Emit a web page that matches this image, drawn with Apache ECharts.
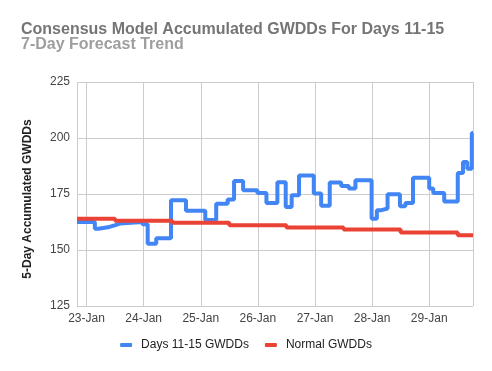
<!DOCTYPE html>
<html>
<head>
<meta charset="utf-8">
<script src="https://cdn.jsdelivr.net/npm/echarts@6/dist/echarts.min.js"></script>
<style>html,body{margin:0;padding:0;background:#fff;}#c{width:492px;height:371px;}</style>
</head>
<body>
<div id="c"></div>
<script>
// Hours offset from 23-Jan 00:00 at which each forecast value starts
const blueHours = [-4, 3.5, 5, 9.6, 11.8, 14, 23.5, 25.7, 29.3, 35.5, 41.8, 49.9, 54.5, 59.3, 62, 65.8, 71.8, 75.6, 80.2, 83.7, 86.2, 89.3, 95.5, 98.6, 102.2, 107, 110.2, 113, 119.8, 122, 123.6, 126.5, 131.7, 134, 137.2, 144, 145.7, 150.3, 156, 158.2, 160, 161.9, 162.4];
const blueValues = [162.5, 159.5, 160.3, 161, 161.8, 162.5, 161.5, 152.8, 155.2, 172.2, 167.5, 163.4, 170.7, 172.5, 180.8, 176.7, 175.4, 171, 180.2, 169.2, 174.4, 183.3, 175.2, 169.8, 180.1, 178.6, 177.4, 181.1, 164, 167.7, 168.5, 174.9, 169.5, 171, 182.2, 177.4, 175.4, 171.7, 184.4, 189.3, 186.3, 202.2, 202.2];
const normalHours = [-4, 12, 36, 60, 84, 108, 132, 156, 162.4];
const normalValues = [164, 163.1, 162.2, 161, 160.1, 159.1, 157.8, 156.6, 156.6];
const yTicks = [125, 150, 175, 200, 225];
const monthNames = ['Jan','Feb','Mar','Apr','May','Jun','Jul','Aug','Sep','Oct','Nov','Dec'];
const seriesNames = ['Days 11-15 GWDDs', 'Normal GWDDs'];

const base = new Date(2024, 0, 23, 0, 0, 0).getTime();
const H = 3600000;
const toPts = (hs, vs) => hs.map((h, i) => [base + h * H, vs[i]]);

const FONT = 'Liberation Sans, Arial, sans-serif';
const chart = echarts.init(document.getElementById('c'), null, {renderer: 'canvas'});
chart.setOption({
  animation: false,
  title: [
    {text: 'Consensus Model Accumulated GWDDs For Days 11-15', left: 16, top: 17,
     textStyle: {fontFamily: FONT, fontSize: 16, fontWeight: 'bold', color: '#757575'}},
    {text: '7-Day Forecast Trend', left: 16, top: 32,
     textStyle: {fontFamily: FONT, fontSize: 16, fontWeight: 'bold', color: '#9e9e9e'}}
  ],
  legend: {
    bottom: 15, left: 'center', icon: 'roundRect', itemWidth: 12, itemHeight: 4, itemGap: 16,
    textStyle: {fontFamily: FONT, fontSize: 12, color: '#222', padding: [0, 0, 0, 4]},
    data: seriesNames
  },
  grid: {left: 77, right: 19, top: 82, bottom: 65, containLabel: false},
  xAxis: {
    type: 'time',
    min: base + blueHours[0] * H,
    max: base + blueHours[blueHours.length - 1] * H,
    minInterval: 24 * H, maxInterval: 24 * H,
    axisLine: {show: false}, axisTick: {show: false},
    splitLine: {show: true, lineStyle: {color: '#cccccc', width: 1}},
    axisLabel: {
      fontFamily: FONT, fontSize: 12, color: '#444', margin: 7,
      showMinLabel: false, showMaxLabel: false,
      formatter: function (v) { const d = new Date(v); return d.getDate() + '-' + monthNames[d.getMonth()]; }
    }
  },
  yAxis: {
    type: 'value', min: yTicks[0], max: yTicks[yTicks.length - 1], interval: 25,
    name: '5-Day Accumulated GWDDs', nameLocation: 'middle', nameGap: 43,
    nameTextStyle: {fontFamily: FONT, fontSize: 12, fontWeight: 'bold', color: '#222', padding: [0, 10, 0, 0]},
    axisLine: {show: false}, axisTick: {show: false},
    splitLine: {show: true, lineStyle: {color: '#cccccc', width: 1}},
    axisLabel: {fontFamily: FONT, fontSize: 12, color: '#444', margin: 7}
  },
  series: [
    {name: seriesNames[0], type: 'line', step: 'end', data: toPts(blueHours, blueValues),
     showSymbol: false, symbol: 'none', color: '#4285F4', lineStyle: {width: 4, color: '#4285F4'}},
    {name: seriesNames[1], type: 'line', step: 'end', data: toPts(normalHours, normalValues),
     showSymbol: false, symbol: 'none', color: '#EA4335', lineStyle: {width: 4, color: '#EA4335'}}
  ]
});
</script>
</body>
</html>
